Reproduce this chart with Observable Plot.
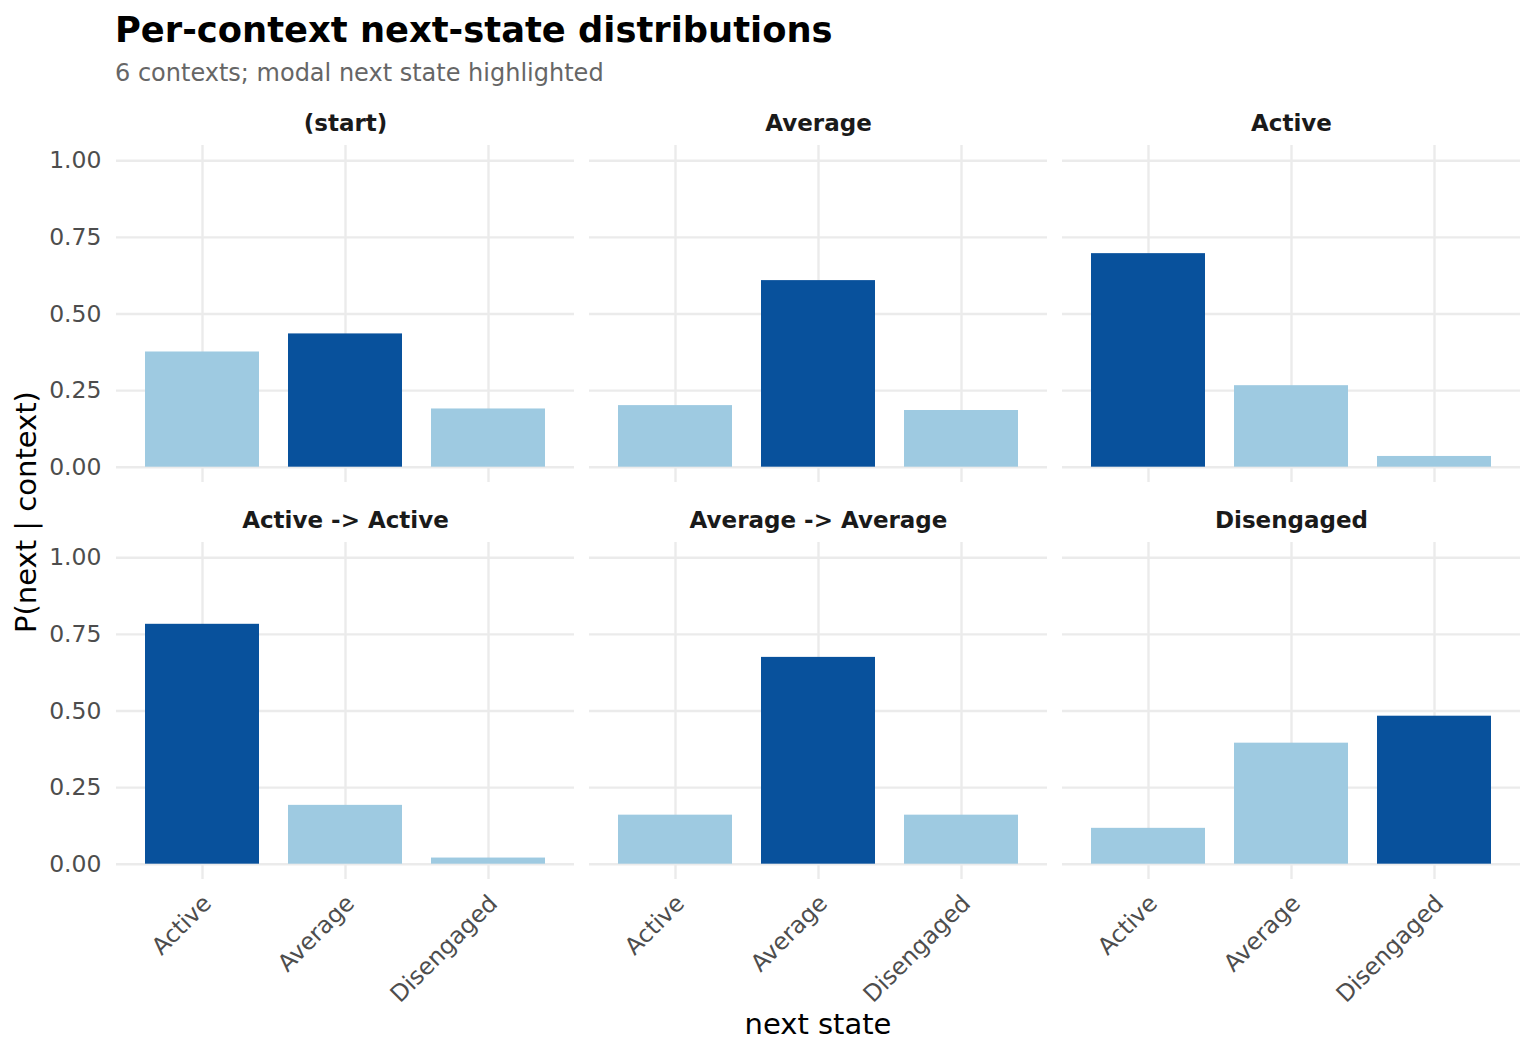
<!DOCTYPE html>
<html><head><meta charset="utf-8">
<script src="https://cdn.jsdelivr.net/npm/d3@7"></script>
<script src="https://cdn.jsdelivr.net/npm/@observablehq/plot@0.6"></script>
<style>
body{margin:0;background:#fff;font-family:"DejaVu Sans",sans-serif;}
#page{position:relative;width:1536px;height:1056px;overflow:hidden;background:#fff}
#title{position:absolute;left:115px;top:12px;font-size:35.3px;font-weight:bold;line-height:1;color:#000;white-space:nowrap}
#subtitle{position:absolute;left:115px;top:61px;font-size:24px;line-height:1;color:#666;white-space:nowrap}
#chart{position:absolute;left:0;top:95px}
</style></head><body>
<div id="page">
<div id="title">Per-context next-state distributions</div>
<div id="subtitle">6 contexts; modal next state highlighted</div>
<div id="chart"></div>
</div>
<script>
const contexts = ["(start)", "Average", "Active", "Active -> Active", "Average -> Average", "Disengaged"];
const nextStates = ["Active", "Average", "Disengaged"];
const pActive     = [0.376, 0.201, 0.697, 0.783, 0.160, 0.117];
const pAverage    = [0.435, 0.609, 0.266, 0.192, 0.675, 0.395];
const pDisengaged = [0.190, 0.185, 0.035, 0.020, 0.160, 0.483];
const yTicks = [0, 0.25, 0.5, 0.75, 1];
const nCols = 3;

const series = [pActive, pAverage, pDisengaged];
const rows = contexts.flatMap((ctx, i) => {
  const vals = series.map(s => s[i]);
  const maxV = Math.max(...vals);
  return nextStates.map((st, j) => ({
    context: ctx, col: i % nCols, row: Math.floor(i / nCols),
    state: st, p: vals[j], modal: vals[j] === maxV ? "modal" : "other"
  }));
});
const facets = contexts.map((ctx, i) => ({context: ctx, col: i % nCols, row: Math.floor(i / nCols)}));

const W = 1536, H = 961;
const chart = Plot.plot({
  width: W, height: H,
  marginLeft: 115, marginRight: 15, marginTop: 50, marginBottom: 176.6,
  style: {fontFamily: "DejaVu Sans", fontSize: "23px", background: "white"},
  fx: {domain: [0, 1, 2], axis: null, paddingInner: 0.03167, paddingOuter: 0},
  fy: {domain: [0, 1], axis: null, paddingInner: 0.152, paddingOuter: 0},
  x: {domain: nextStates, padding: 0.2, label: null},
  y: {domain: [-0.05, 1.05], label: null},
  color: {domain: ["modal", "other"], range: ["#08519c", "#9ecae1"]},
  marks: [
    Plot.gridY(yTicks, {stroke: "#ebebeb", strokeOpacity: 1, strokeWidth: 2.4}),
    Plot.gridX({stroke: "#ebebeb", strokeOpacity: 1, strokeWidth: 2.4}),
    Plot.barY(rows, {fx: "col", fy: "row", x: "state", y1: 0, y2: "p", fill: "modal"}),
    Plot.axisY({ticks: yTicks, tickFormat: d3.format(".2f"), tickSize: 0, tickPadding: 15,
      fontSize: 23.5, color: "#4d4d4d", label: null}),
    Plot.axisX({tickSize: 0, tickPadding: 20, dx: 5, tickRotate: -45, fontSize: 23.5, color: "#4d4d4d", label: null}),
    Plot.text(facets, {fx: "col", fy: "row", text: "context", frameAnchor: "top", lineAnchor: "middle", dy: -22,
      fontSize: 23, fontWeight: "bold", fill: "#1a1a1a"})
  ]
});

const svg = d3.select(chart);
svg.append("text")
  .attr("transform", "translate(27,417) rotate(-90)")
  .attr("text-anchor", "middle").attr("dy", "0.32em")
  .attr("font-size", 29).attr("fill", "#000")
  .text("P(next | context)");
svg.append("text")
  .attr("x", 818).attr("y", 930)
  .attr("text-anchor", "middle").attr("dy", "0.32em")
  .attr("font-size", 29).attr("fill", "#000")
  .text("next state");

document.getElementById("chart").appendChild(chart);
</script>
</body></html>
